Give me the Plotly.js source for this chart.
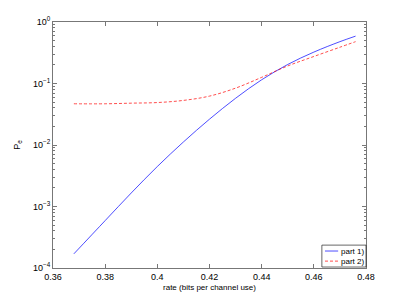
<!DOCTYPE html>
<html>
<head>
<meta charset="utf-8">
<script src="https://cdn.plot.ly/plotly-3.0.1.min.js"></script>
<style>html,body{margin:0;padding:0;background:#fff;}#chart{width:405px;height:303px;}</style>
</head>
<body>
<div id="chart"></div>
<script>
const rate = [0.368, 0.38, 0.39, 0.40, 0.41, 0.42, 0.43, 0.44, 0.45, 0.46, 0.47, 0.476];
const part1 = [1.7e-4, 5.9e-4, 1.66e-3, 4.47e-3, 0.0112, 0.0263, 0.0575, 0.115, 0.204, 0.324, 0.479, 0.589];
const part2 = [0.0468, 0.0468, 0.0479, 0.049, 0.0531, 0.0624, 0.0841, 0.126, 0.193, 0.275, 0.389, 0.479];
const seriesNames = ['part 1)', 'part 2)'];
const yTickVals = [1e-4, 1e-3, 1e-2, 1e-1, 1];
const yTickText = ['10<sup>\u22124</sup>', '10<sup>\u22123</sup>', '10<sup>\u22122</sup>', '10<sup>\u22121</sup>', '10<sup>0</sup>'];
const xTickVals = [0.36, 0.38, 0.40, 0.42, 0.44, 0.46, 0.48];
const xTickText = ['0.36', '0.38', '0.4', '0.42', '0.44', '0.46', '0.48'];
const colors = ['#0000ff', '#ff0000'];
const dashes = ['solid', '3px,2px'];

const font = {family: 'Liberation Sans, Arial, Helvetica, sans-serif', size: 9, color: '#000'};
const smallFont = {family: 'Liberation Sans, Arial, Helvetica, sans-serif', size: 8, color: '#000'};
const data = [
  {x: rate, y: part1, name: seriesNames[0], type: 'scatter', mode: 'lines', showlegend: false,
   line: {color: colors[0], width: 0.7, shape: 'spline'}},
  {x: rate, y: part2, name: seriesNames[1], type: 'scatter', mode: 'lines', showlegend: false,
   line: {color: colors[1], width: 0.7, dash: dashes[1], shape: 'spline'}}
];

// compact MATLAB-style legend box in the lower right corner
const lgX0 = 0.859, lgX1 = 1.0, lgY0 = 0.004, lgY1 = 0.093;
const rowY = [0.069, 0.028];
const shapes = [{type: 'rect', xref: 'paper', yref: 'paper', x0: lgX0, x1: lgX1, y0: lgY0, y1: lgY1,
                 line: {color: '#000', width: 0.6}, fillcolor: '#fff', layer: 'above'}];
const annotations = [];
seriesNames.forEach((n, i) => {
  shapes.push({type: 'line', xref: 'paper', yref: 'paper', x0: 0.869, x1: 0.911, y0: rowY[i], y1: rowY[i],
               line: {color: colors[i], width: 0.7, dash: dashes[i]}, layer: 'above'});
  annotations.push({xref: 'paper', yref: 'paper', x: 0.913, y: rowY[i], xanchor: 'left', yanchor: 'middle',
                    text: n, showarrow: false, font: smallFont});
});

const layout = {
  width: 405, height: 303,
  margin: {l: 53, r: 39, t: 22, b: 35},
  paper_bgcolor: '#fff', plot_bgcolor: '#fff',
  font: font,
  showlegend: false,
  shapes: shapes,
  annotations: annotations,
  xaxis: {range: [0.36, 0.48], tickvals: xTickVals, ticktext: xTickText, showgrid: false, zeroline: false,
          ticks: 'inside', ticklen: 4, tickcolor: '#777', linecolor: '#777', linewidth: 1,
          mirror: 'ticks', showline: true, tickfont: font,
          title: {text: 'rate (bits per channel use)', font: smallFont, standoff: 3}},
  yaxis: {type: 'log', range: [-4, 0], tickvals: yTickVals, ticktext: yTickText, showgrid: false,
          zeroline: false, ticks: 'inside', ticklen: 4, tickcolor: '#777', linecolor: '#777',
          linewidth: 1, mirror: 'ticks', showline: true, tickfont: font,
          minor: {ticks: 'inside', ticklen: 2, tickcolor: '#777', dtick: 'D1', showgrid: false},
          title: {text: 'P<sub>e</sub>', font: font, standoff: 10}}
};
Plotly.newPlot('chart', data, layout, {displayModeBar: false, staticPlot: true});
</script>
</body>
</html>
